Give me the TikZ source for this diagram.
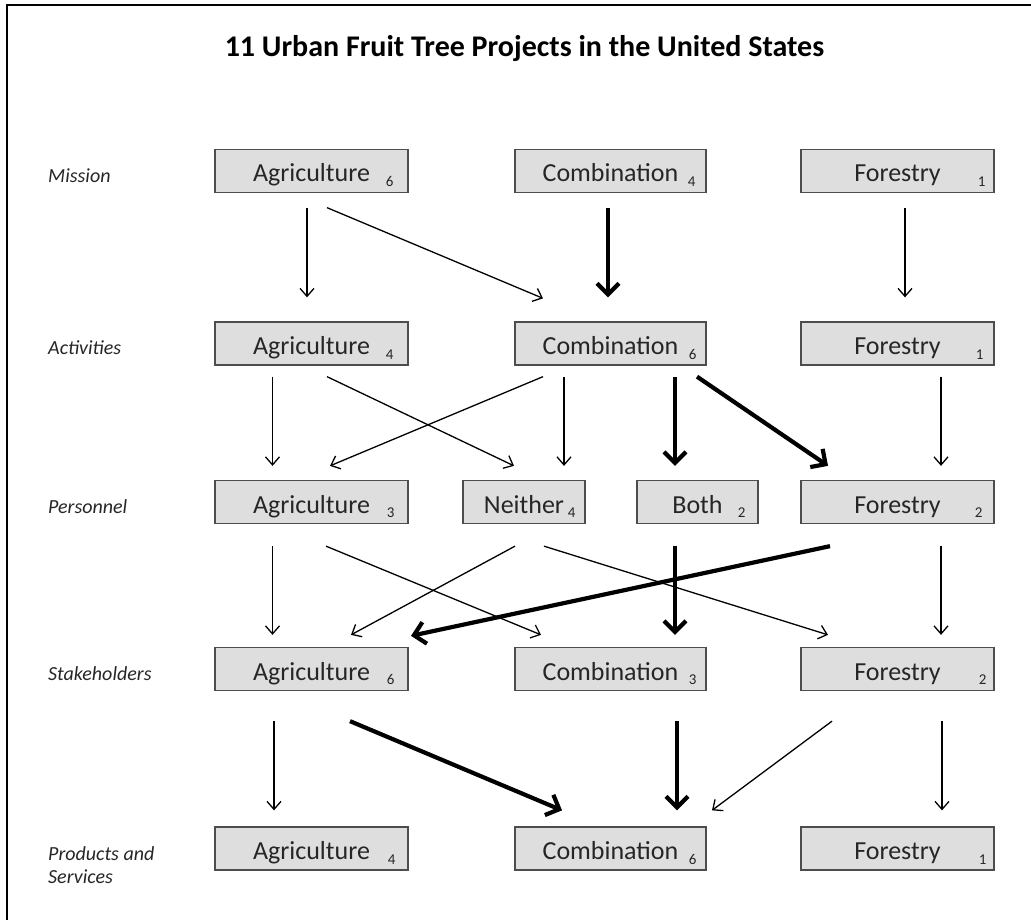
\documentclass[tikz,border=0pt]{standalone}
\usepackage{fontspec}
\setmainfont{Carlito}
\usetikzlibrary{arrows.meta,calc}
\definecolor{boxfill}{HTML}{DEDEDE}
\definecolor{boxline}{HTML}{4D4D4D}
\definecolor{txt}{HTML}{262626}
\begin{document}
\begin{tikzpicture}[x=1pt,y=1pt,
  box/.style={draw=boxline, fill=boxfill, line width=1.3pt, minimum height=43pt,
    inner sep=0pt, text height=22pt, text depth=0pt, text=txt,
    font=\fontsize{26}{28}\selectfont},
  agri/.style={box, minimum width=193pt},
  comb/.style={box, minimum width=191pt},
  fore/.style={box, minimum width=193pt},
  num/.style={anchor=base, inner sep=0pt, text=txt, font=\fontsize{15}{16}\selectfont},
  rowlab/.style={anchor=base west, inner sep=0pt, text=txt, align=left,
    font=\fontsize{20}{23}\selectfont\itshape},
  thin/.style={-{Straight Barb[length=8pt,width=14pt]}, line width=1.3pt},
  thick/.style={-{Straight Barb[length=11pt,width=22pt]}, line width=4.2pt}]
\useasboundingbox (0,0) rectangle (1031,-920);
\draw[line width=2pt] (7,-920) -- (7,-5) -- (1031,-5);

\node[anchor=base, inner sep=0pt, font=\fontsize{30}{32}\selectfont\bfseries] (title) at (524.5,-57)
  {11 Urban Fruit Tree Projects in the United States};

% row labels
\node[rowlab] (lm) at (48,-183) {Mission};
\node[rowlab] (la) at (48,-354.5) {Activities};
\node[rowlab] (lp) at (48,-513.5) {Personnel};
\node[rowlab] (ls) at (48,-680.5) {Stakeholders};
\node[rowlab] (lr) at (48,-883) {Products and\\Services};

% boxes
\node[agri] (mA) at (311.5,-171) {Agriculture};
\node[comb] (mC) at (610.5,-171) {Combination};
\node[fore] (mF) at (897.5,-171) {Forestry};
\node[agri] (aA) at (311.5,-343.5) {Agriculture};
\node[comb] (aC) at (610.5,-343.5) {Combination};
\node[fore] (aF) at (897.5,-343.5) {Forestry};
\node[agri] (pA) at (311.5,-502) {Agriculture};
\node[box, minimum width=122pt] (pN) at (524,-502) {Neither};
\node[box, minimum width=121pt] (pB) at (697.5,-502) {Both};
\node[fore] (pF) at (897.5,-502) {Forestry};
\node[agri] (sA) at (311.5,-669) {Agriculture};
\node[comb] (sC) at (610.5,-669) {Combination};
\node[fore] (sF) at (897.5,-669) {Forestry};
\node[agri] (rA) at (311.5,-848.5) {Agriculture};
\node[comb] (rC) at (610.5,-848.5) {Combination};
\node[fore] (rF) at (897.5,-848.5) {Forestry};

% counts
\node[num] (mAn) at ($(mA.south east)+(-19,6.5)$) {6};
\node[num] (mCn) at ($(mC.south east)+(-15,6.5)$) {4};
\node[num] (mFn) at ($(mF.south east)+(-13,6.5)$) {1};
\node[num] (aAn) at ($(aA.south east)+(-19,6.5)$) {4};
\node[num] (aCn) at ($(aC.south east)+(-14,6.5)$) {6};
\node[num] (aFn) at ($(aF.south east)+(-15,6.5)$) {1};
\node[num] (pAn) at ($(pA.south east)+(-18,6.5)$) {3};
\node[num] (pNn) at ($(pN.south east)+(-14,6.5)$) {4};
\node[num] (pBn) at ($(pB.south east)+(-17,6.5)$) {2};
\node[num] (pFn) at ($(pF.south east)+(-16,6.5)$) {2};
\node[num] (sAn) at ($(sA.south east)+(-18,6.5)$) {6};
\node[num] (sCn) at ($(sC.south east)+(-14,6.5)$) {3};
\node[num] (sFn) at ($(sF.south east)+(-12,6.5)$) {2};
\node[num] (rAn) at ($(rA.south east)+(-17,6.5)$) {4};
\node[num] (rCn) at ($(rC.south east)+(-14,6.5)$) {6};
\node[num] (rFn) at ($(rF.south east)+(-12,6.5)$) {1};

% Mission -> Activities
\draw[thin]  ($(mA.south)+(-4.5,-14.5)$) -- ($(aA.north)+(-4.5,24)$);
\draw[thin]  ($(mA.south)+(15.5,-14.5)$) -- ($(aC.north)+(-67.5,23)$);
\draw[thick] ($(mC.south)+(-2.5,-14.5)$) -- ($(aC.north)+(-2.5,24)$);
\draw[thin]  ($(mF.south)+(7.5,-14.5)$) -- ($(aF.north)+(7.5,24)$);

% Activities -> Personnel
\draw[thin]  ($(aA.south)+(-39,-11)$) -- ($(pA.north)+(-39,14)$);
\draw[thin]  ($(aA.south)+(15.5,-11)$) -- ($(pN.north)+(-10,14)$);
\draw[thin]  ($(aC.south)+(-67.5,-11)$) -- ($(pA.north)+(18.5,14)$);
\draw[thin]  ($(aC.south)+(-46.5,-11)$) -- ($(pN.north)+(40,14)$);
\draw[thick] ($(aC.south)+(64.5,-11)$) -- ($(pB.north)+(-22.5,14)$);
\draw[thick] ($(aC.south)+(86.5,-11)$) -- ($(pF.north)+(-69.5,14)$);
\draw[thin]  ($(aF.south)+(43.5,-11)$) -- ($(pF.north)+(43.5,14)$);

% Personnel -> Stakeholders
\draw[thin]  ($(pA.south)+(-39,-22)$) -- ($(sA.north)+(-39,12)$);
\draw[thin]  ($(pA.south)+(14.5,-22)$) -- ($(sC.north)+(-69.5,12)$);
\draw[thin]  ($(pN.south)+(-9,-22)$) -- ($(sA.north)+(39.5,12)$);
\draw[thin]  ($(pN.south)+(20,-22)$) -- ($(sF.north)+(-69.5,12)$);
\draw[thick] ($(pB.south)+(-22.5,-22)$) -- ($(sC.north)+(64.5,12)$);
\draw[thick] ($(pF.south)+(-67.5,-22)$) -- ($(sA.north)+(99.5,11)$);
\draw[thin]  ($(pF.south)+(43.5,-22)$) -- ($(sF.north)+(43.5,12)$);

% Stakeholders -> Products and Services
\draw[thin]  ($(sA.south)+(-37.5,-30)$) -- ($(rA.north)+(-37.5,16)$);
\draw[thick] ($(sA.south)+(38.5,-30)$) -- ($(rC.north)+(-48.5,16)$);
\draw[thick] ($(sC.south)+(66.5,-30)$) -- ($(rC.north)+(66.5,16)$);
\draw[thin]  ($(sF.south)+(-65.5,-30)$) -- ($(rC.north)+(101.5,16)$);
\draw[thin]  ($(sF.south)+(44.5,-30)$) -- ($(rF.north)+(44.5,16)$);
\end{tikzpicture}
\end{document}
